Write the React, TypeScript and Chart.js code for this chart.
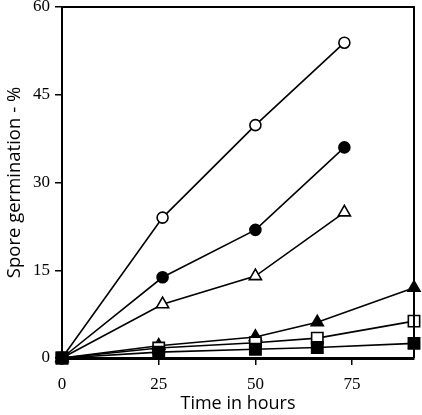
import React, { useEffect, useRef } from "react";
import { Chart, registerables } from "chart.js";

Chart.register(...registerables);

const openCircleX = [0, 26, 50, 73];
const openCircleY = [0, 24, 39.8, 53.9];
const filledCircleX = [0, 26, 50, 73];
const filledCircleY = [0, 13.8, 21.9, 36];
const openTriangleX = [0, 26, 50, 73];
const openTriangleY = [0, 9.2, 14, 24.9];
const filledTriangleX = [0, 25, 50, 66, 91];
const filledTriangleY = [0, 2.1, 3.6, 6.1, 12];
const openSquareX = [0, 25, 50, 66, 91];
const openSquareY = [0, 1.7, 2.6, 3.4, 6.3];
const filledSquareX = [0, 25, 50, 66, 91];
const filledSquareY = [0, 1.0, 1.5, 1.8, 2.5];

const xTicks = [0, 25, 50, 75];
const yTicks = [0, 15, 30, 45, 60];

const toPts = (xs: number[], ys: number[]) => xs.map((x, i) => ({ x, y: ys[i] }));

const frame = {
  id: "frame",
  afterDatasetsDraw(chart: any) {
    const { ctx, chartArea } = chart;
    ctx.save();
    ctx.strokeStyle = "#000";
    ctx.lineWidth = 2;
    ctx.beginPath();
    ctx.moveTo(chartArea.left, chartArea.top);
    ctx.lineTo(chartArea.right, chartArea.top);
    ctx.lineTo(chartArea.right, chartArea.bottom);
    ctx.stroke();
    ctx.restore();
  },
};

export default function App() {
  const ref = useRef<HTMLCanvasElement>(null);
  useEffect(() => {
    if (!ref.current) return;
    const mk = (xs: number[], ys: number[], style: string, filled: boolean, r: number) => ({
      data: toPts(xs, ys),
      borderColor: "#000",
      borderWidth: 1.6,
      pointStyle: style,
      pointRadius: r,
      pointBorderWidth: 1.6,
      pointBackgroundColor: filled ? "#000" : "#fff",
      pointBorderColor: "#000",
      clip: false as any,
      tension: 0,
    });
    const chart = new Chart(ref.current, {
      type: "line",
      data: {
        datasets: [
          mk(filledSquareX, filledSquareY, "rect", true, 8),
          mk(openSquareX, openSquareY, "rect", false, 8),
          mk(filledTriangleX, filledTriangleY, "triangle", true, 7),
          mk(openTriangleX, openTriangleY, "triangle", false, 7),
          mk(filledCircleX, filledCircleY, "circle", true, 5.5),
          mk(openCircleX, openCircleY, "circle", false, 5.5),
        ],
      },
      options: {
        animation: false,
        responsive: false,
        maintainAspectRatio: false,
        layout: { autoPadding: false, padding: { top: 7, right: 8, left: 0, bottom: 0 } },
        plugins: { legend: { display: false }, tooltip: { enabled: false } },
        scales: {
          x: {
            type: "linear",
            min: 0,
            max: 91,
            afterBuildTicks: (s: any) => {
              s.ticks = xTicks.map((v) => ({ value: v }));
            },
            afterFit: (s: any) => {
              s.height = 57;
              s.paddingLeft = 0;
              s.paddingRight = 0;
            },
            border: { display: true, color: "#000", width: 3 },
            grid: { display: true, drawOnChartArea: false, drawTicks: true, tickLength: 7, color: "#000", lineWidth: 1.5 },
            ticks: {
              color: "#000",
              padding: 9,
              font: { family: "'Liberation Serif', serif", size: 17 },
            },
            title: {
              display: true,
              text: "Time in hours",
              color: "#000",
              font: { family: "'Open Sans', sans-serif", size: 18 },
              padding: { top: 0, bottom: 0 },
            },
          },
          y: {
            type: "linear",
            min: 0,
            max: 60,
            afterBuildTicks: (s: any) => {
              s.ticks = yTicks.map((v) => ({ value: v }));
            },
            afterFit: (s: any) => {
              s.width = 62;
              s.paddingTop = 0;
              s.paddingBottom = 0;
            },
            border: { display: true, color: "#000", width: 2 },
            grid: { display: true, drawOnChartArea: false, drawTicks: true, tickLength: 7, color: "#000", lineWidth: 1.5 },
            ticks: {
              color: "#000",
              padding: 5,
              font: { family: "'Liberation Serif', serif", size: 17 },
            },
            title: {
              display: true,
              text: "Spore germination - %",
              color: "#000",
              font: { family: "'Open Sans', sans-serif", size: 18.5 },
              padding: { top: 4, bottom: 0 },
            },
          },
        },
      },
      plugins: [frame],
    } as any);
    return () => chart.destroy();
  }, []);
  return (
    <div style={{ position: "fixed", left: 0, top: 0, width: 422, height: 415, background: "#fff" }}>
      <canvas ref={ref} width={422} height={415} style={{ width: 422, height: 415, display: "block" }} />
    </div>
  );
}
